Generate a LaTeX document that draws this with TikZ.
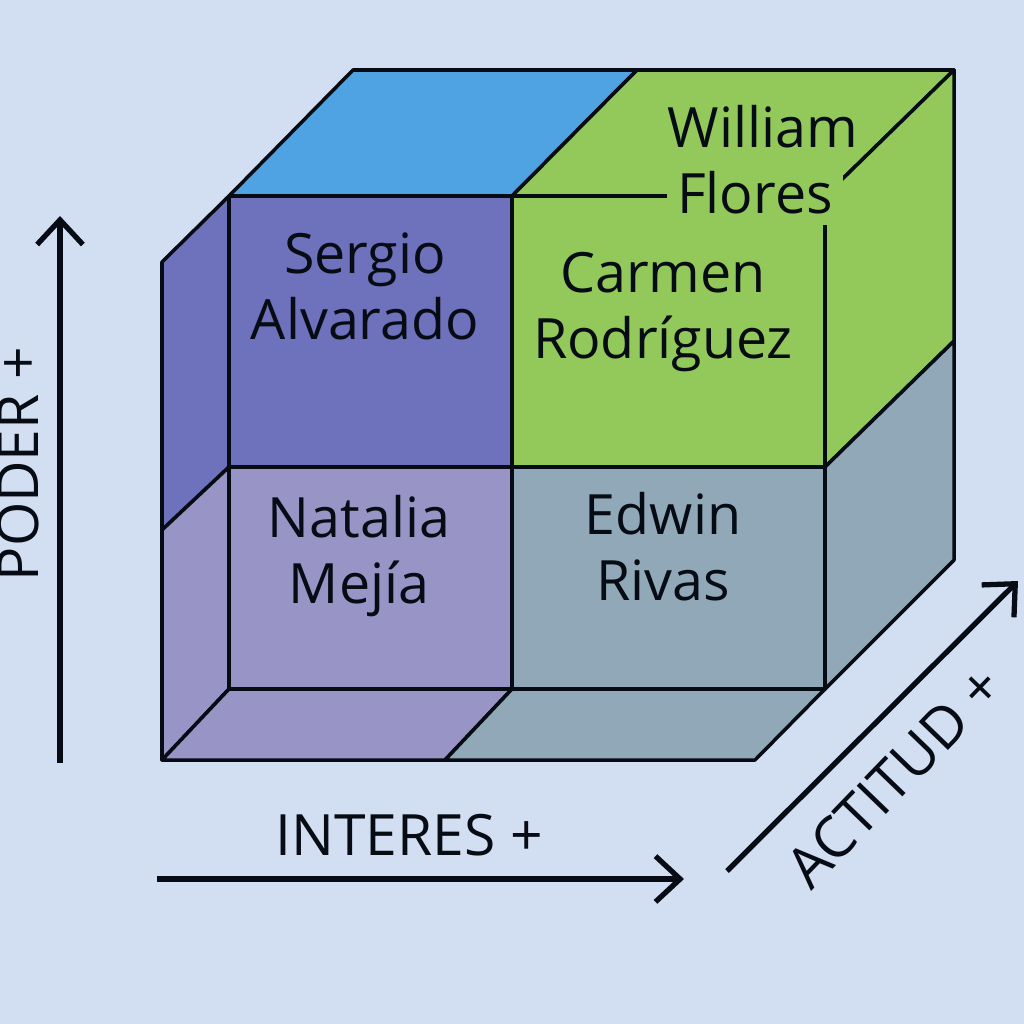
\documentclass[tikz,border=0pt]{standalone}
\usepackage{fontspec}
\setmainfont{Open Sans}
\usetikzlibrary{arrows.meta}
\definecolor{backc}{HTML}{D2DEF2}
\definecolor{bluec}{HTML}{4FA3E3}
\definecolor{greenc}{HTML}{92C95A}
\definecolor{darkc}{HTML}{6E71BB}
\definecolor{lightc}{HTML}{9894C6}
\definecolor{greyc}{HTML}{90A8B8}
\definecolor{inkc}{HTML}{060B14}
\begin{document}
\begin{tikzpicture}[x=0.01cm,y=-0.01cm,
	face/.style = {draw=inkc, line width=1pt, line join=round},
	person/.style = {text=inkc, font=\fontsize{15.8}{18.8}\selectfont, align=center},
	axislabel/.style = {text=inkc, font=\fontsize{16.2}{19}\selectfont},
	axisline/.style = {draw=inkc, line width=1.5pt, -{Straight Barb[length=7pt,width=13pt,line width=1.5pt]}}]
	\fill[backc] (0,0) rectangle (1024,1024);
	\useasboundingbox (0,0) rectangle (1024,1024);
	% cube corners
	\coordinate (b1) at (353,70);
	\coordinate (b2) at (637,70);
	\coordinate (b3) at (954,70);
	\coordinate (b4) at (954,341);
	\coordinate (b5) at (954,560);
	\coordinate (f1) at (229,196);
	\coordinate (f2) at (512,196);
	\coordinate (f3) at (825,196);
	\coordinate (m1) at (229,467);
	\coordinate (m2) at (512,467);
	\coordinate (m3) at (825,467);
	\coordinate (u1) at (229,689);
	\coordinate (u2) at (512,689);
	\coordinate (u3) at (825,689);
	\coordinate (l1) at (162,262);
	\coordinate (l2) at (162,530);
	\coordinate (l3) at (162,760);
	\coordinate (l4) at (445,760);
	\coordinate (l5) at (755,760);
	% faces
	\draw[face,fill=bluec] (f1) -- (b1) -- (b2) -- (f2) -- cycle;
	\draw[face,fill=greenc] (f2) -- (b2) -- (b3) -- (f3) -- cycle;
	\draw[face,fill=greenc] (f3) -- (b3) -- (b4) -- (m3) -- cycle;
	\draw[face,fill=greyc] (m3) -- (b4) -- (b5) -- (u3) -- cycle;
	\draw[face,fill=darkc] (l1) -- (f1) -- (m1) -- (l2) -- cycle;
	\draw[face,fill=lightc] (l2) -- (m1) -- (u1) -- (l3) -- cycle;
	\draw[face,fill=lightc] (l3) -- (u1) -- (u2) -- (l4) -- cycle;
	\draw[face,fill=greyc] (l4) -- (u2) -- (u3) -- (l5) -- cycle;
	\draw[face,fill=darkc] (f1) rectangle (m2);
	\draw[face,fill=greenc] (f2) rectangle (m3);
	\draw[face,fill=lightc] (m1) rectangle (u2);
	\draw[face,fill=greyc] (m2) rectangle (u3);
	% names
	\node[person] (sergio) at (365,286) {Sergio\\Alvarado};
	\node[person] (carmen) at (663,312) {Carmen\\Rodríguez};
	\node[person] (natalia) at (359,556) {Natalia\\Mejía};
	\node[person] (edwin) at (663,547) {Edwin\\Rivas};
	\node[person] (william) at (763,127) {William};
	\node[person,fill=greenc,inner sep=3pt] (flores) at (755,193) {Flores};
	% axes
	\coordinate (p0) at (60,763);
	\coordinate (p1) at (60,216);
	\coordinate (i0) at (157,879);
	\coordinate (i1) at (684,879);
	\coordinate (a0) at (727,871);
	\coordinate (a1) at (1018,581);
	\draw[axisline] (p0) -- (p1);
	\draw[axisline] (i0) -- (i1);
	\draw[axisline] (a0) -- (a1);
	\node[axislabel,rotate=90] (poder) at (18,464) {PODER +};
	\node[axislabel] (interes) at (409,835) {INTERES +};
	\node[axislabel,rotate=46] (actitud) at (894,777) {ACTITUD +};
\end{tikzpicture}
\end{document}
